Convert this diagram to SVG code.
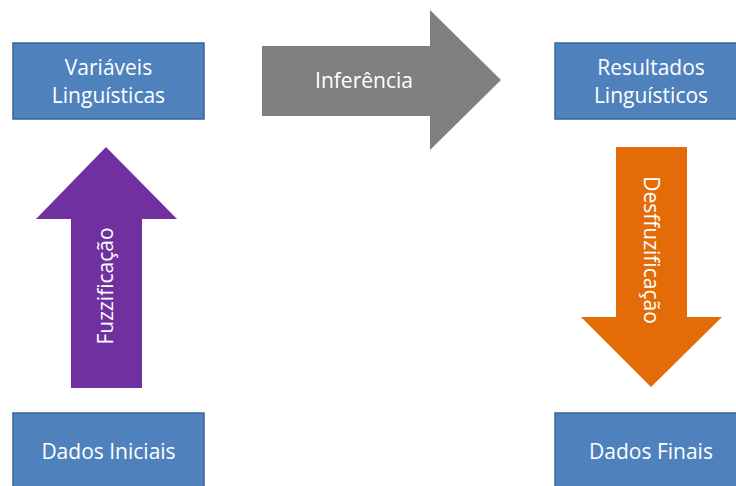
<svg xmlns="http://www.w3.org/2000/svg" width="736" height="486" viewBox="0 0 736 486">
  <style>
    .box { fill: #4F81BD; stroke: #3A649A; stroke-width: 1.5; }
    .lbl { font-family: "Open Sans", "Liberation Sans", sans-serif; font-size: 21px; fill: #FFFFFF; text-anchor: middle; }
  </style>
  <rect width="736" height="486" fill="#FFFFFF"/>

  <!-- process arrows -->
  <g id="connectors">
    <g id="arrow-inferencia">
      <polygon points="262,46 430,46 430,10 501,80 430,150 430,116 262,116" fill="#7F7F7F"/>
      <text class="lbl" x="364" y="88">Inferência</text>
    </g>
    <g id="arrow-fuzzificacao">
      <polygon points="106,147 177,219 142,219 142,388 71,388 71,219 36,219" fill="#7030A0"/>
      <text class="lbl" transform="translate(113,286) rotate(-90)">Fuzzificação</text>
    </g>
    <g id="arrow-desfuzzificacao">
      <polygon points="616,147 687,147 687,317 722,317 651,387 581,317 616,317" fill="#E36C09"/>
      <text class="lbl" transform="translate(644,250) rotate(90)">Desffuzificação</text>
    </g>
  </g>

  <!-- data / variable nodes -->
  <g id="node-variaveis">
    <rect class="box" x="13" y="43" width="191" height="76"/>
    <text class="lbl" x="108.5" y="75">Variáveis</text>
    <text class="lbl" x="108.5" y="103">Linguísticas</text>
  </g>
  <g id="node-resultados">
    <rect class="box" x="555" y="43" width="192" height="76"/>
    <text class="lbl" x="651" y="75">Resultados</text>
    <text class="lbl" x="651" y="103">Linguísticos</text>
  </g>
  <g id="node-dados-iniciais">
    <rect class="box" x="13" y="413" width="191" height="80"/>
    <text class="lbl" x="108.5" y="459">Dados Iniciais</text>
  </g>
  <g id="node-dados-finais">
    <rect class="box" x="555" y="413" width="192" height="80"/>
    <text class="lbl" x="651" y="459">Dados Finais</text>
  </g>
</svg>
